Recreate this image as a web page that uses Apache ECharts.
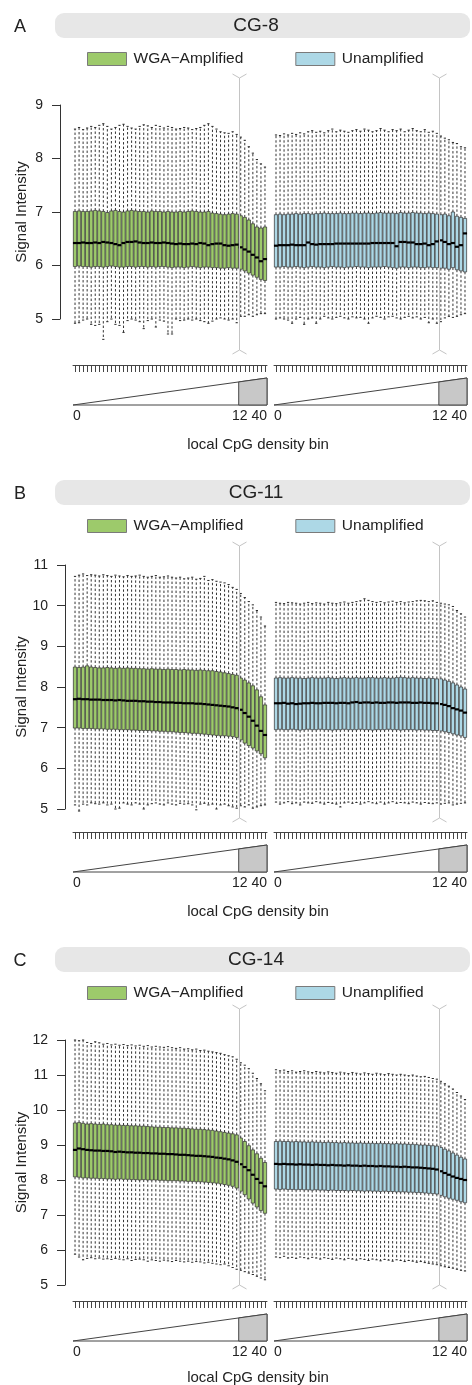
<!DOCTYPE html>
<html>
<head>
<meta charset="utf-8">
<script src="https://cdn.jsdelivr.net/npm/echarts/dist/echarts.min.js"></script>
<style>
  html, body { margin: 0; padding: 0; background: #ffffff; }
  #chart { width: 472px; height: 1385px; }
</style>
</head>
<body>
<div id="chart"></div>
<script>
// Local CpG density bins: 41 fine bins covering 0-12, then 7 coarse bins covering 12-40
const bins = ['1','2','3','4','5','6','7','8','9','10','11','12','13','14','15','16',
  '17','18','19','20','21','22','23','24','25','26','27','28','29','30','31','32',
  '33','34','35','36','37','38','39','40','41','42','43','44','45','46','47','48'];
const splitAfter = 40;            // last bin of the 0-12 range
const rampLabels = ['0', '12', '40'];
const groupNames = ['WGA\u2212Amplified', 'Unamplified'];
const panelTitles = ['CG-8', 'CG-11', 'CG-14'];
const panelLetters = ['A', 'B', 'C'];

// ---- CG-8, WGA-amplified ----
const cg8WgaHi  = [8.55,8.58,8.54,8.57,8.60,8.58,8.62,8.65,8.60,8.55,8.58,8.62,8.64,8.60,8.57,8.55,8.60,8.63,8.61,8.58,8.62,8.60,8.57,8.60,8.58,8.55,8.56,8.58,8.57,8.54,8.56,8.58,8.62,8.65,8.60,8.55,8.50,8.48,8.47,8.50,8.45,8.40,8.34,8.22,8.10,7.98,7.90,7.84];
const cg8WgaQ3  = [7.01,7.02,7.01,7.01,7.02,7.03,7.02,7.01,6.99,7.02,7.03,7.01,7.00,7.02,7.03,7.02,7.01,7.01,7.00,7.02,7.01,7.01,7.00,7.01,7.00,7.00,7.01,7.00,7.01,7.02,7.01,7.00,7.00,7.01,6.98,6.97,6.96,6.95,6.96,6.97,6.96,6.93,6.90,6.85,6.78,6.72,6.70,6.72];
const cg8WgaMed = [6.42,6.42,6.43,6.42,6.42,6.43,6.42,6.44,6.43,6.42,6.40,6.38,6.42,6.44,6.44,6.45,6.43,6.42,6.42,6.43,6.42,6.42,6.43,6.42,6.41,6.40,6.41,6.40,6.40,6.41,6.40,6.42,6.41,6.38,6.40,6.41,6.41,6.38,6.37,6.38,6.39,6.34,6.30,6.26,6.20,6.15,6.08,6.12];
const cg8WgaQ1  = [5.98,5.99,5.98,5.98,5.97,5.98,5.98,5.97,5.98,5.99,5.98,5.97,5.97,5.98,5.98,5.97,5.98,5.98,5.97,5.98,5.97,5.98,5.98,5.97,5.96,5.97,5.97,5.96,5.97,5.98,5.97,5.96,5.97,5.97,5.96,5.96,5.95,5.95,5.96,5.95,5.95,5.93,5.90,5.86,5.82,5.78,5.74,5.72];
const cg8WgaLo  = [4.92,4.93,4.98,5.00,4.90,4.88,4.90,4.62,4.95,5.00,4.90,4.88,4.75,4.97,5.00,4.98,4.95,4.82,4.97,5.00,4.85,4.98,4.96,4.72,4.72,5.00,4.97,4.98,5.00,4.98,5.00,4.97,4.95,4.92,4.96,5.00,5.02,5.00,4.98,5.00,4.93,5.05,5.05,5.08,5.05,5.08,5.10,5.10];

// ---- CG-8, unamplified ----
const cg8UnaHi  = [8.44,8.43,8.46,8.44,8.47,8.45,8.48,8.46,8.50,8.52,8.49,8.51,8.48,8.52,8.55,8.50,8.53,8.51,8.49,8.52,8.54,8.51,8.55,8.53,8.50,8.52,8.56,8.53,8.50,8.54,8.52,8.55,8.50,8.53,8.56,8.52,8.50,8.54,8.49,8.51,8.47,8.42,8.38,8.35,8.30,8.28,8.22,8.20];
const cg8UnaQ3  = [6.95,6.96,6.95,6.96,6.96,6.97,6.96,6.97,6.97,6.96,6.97,6.97,6.98,6.97,6.97,6.97,6.98,6.97,6.97,6.98,6.98,6.97,6.98,6.98,6.97,6.98,6.99,6.98,6.98,6.98,6.97,6.99,6.98,6.98,6.99,6.98,6.98,6.97,6.98,6.97,6.96,6.95,6.96,6.93,7.00,6.92,6.90,6.88];
const cg8UnaMed = [6.37,6.38,6.38,6.38,6.39,6.38,6.38,6.38,6.43,6.40,6.39,6.40,6.40,6.40,6.40,6.41,6.41,6.41,6.41,6.41,6.41,6.41,6.41,6.41,6.42,6.42,6.42,6.42,6.42,6.42,6.36,6.44,6.44,6.43,6.43,6.40,6.40,6.41,6.38,6.40,6.45,6.47,6.44,6.40,6.42,6.35,6.38,6.60];
const cg8UnaQ1  = [5.97,5.97,5.98,5.97,5.97,5.98,5.97,5.96,5.97,5.98,5.97,5.97,5.96,5.97,5.98,5.97,5.97,5.96,5.97,5.97,5.98,5.97,5.97,5.96,5.97,5.97,5.97,5.98,5.97,5.96,5.95,5.97,5.97,5.96,5.97,5.97,5.96,5.96,5.97,5.96,5.96,5.95,5.95,5.93,5.96,5.92,5.90,5.88];
const cg8UnaLo  = [5.00,5.02,5.00,4.98,4.92,5.00,5.03,4.90,5.00,5.02,4.92,5.00,5.05,5.02,5.00,5.03,5.05,5.02,5.00,5.04,5.02,5.03,5.00,4.92,5.02,5.05,5.03,5.00,5.04,5.05,5.02,5.00,5.03,5.05,5.02,5.04,5.00,5.03,4.93,5.00,4.92,4.95,5.02,5.05,5.03,5.05,5.08,5.10];

// ---- CG-11, WGA-amplified ----
const cg11WgaHi  = [10.72,10.75,10.78,10.74,10.76,10.75,10.73,10.76,10.74,10.72,10.75,10.73,10.71,10.74,10.72,10.73,10.75,10.72,10.70,10.72,10.74,10.70,10.71,10.73,10.70,10.68,10.70,10.66,10.68,10.70,10.65,10.67,10.72,10.62,10.64,10.60,10.58,10.56,10.52,10.45,10.40,10.30,10.20,10.10,10.02,9.88,9.72,9.50];
const cg11WgaQ3  = [8.49,8.48,8.49,8.52,8.49,8.48,8.47,8.47,8.48,8.47,8.46,8.47,8.46,8.47,8.46,8.46,8.45,8.45,8.44,8.45,8.44,8.44,8.43,8.44,8.43,8.43,8.42,8.43,8.42,8.42,8.41,8.42,8.41,8.40,8.40,8.38,8.37,8.35,8.33,8.31,8.29,8.22,8.17,8.10,8.03,7.93,7.76,7.56];
const cg11WgaMed = [7.70,7.71,7.70,7.70,7.69,7.69,7.69,7.68,7.68,7.68,7.67,7.68,7.67,7.66,7.66,7.66,7.65,7.65,7.64,7.64,7.63,7.63,7.62,7.62,7.62,7.61,7.61,7.60,7.60,7.60,7.59,7.59,7.58,7.57,7.56,7.55,7.54,7.53,7.52,7.50,7.48,7.44,7.36,7.27,7.17,7.05,6.92,6.82];
const cg11WgaQ1  = [6.99,6.99,6.98,6.98,6.98,6.97,6.97,6.97,6.96,6.96,6.96,6.95,6.95,6.95,6.94,6.94,6.93,6.93,6.93,6.92,6.92,6.91,6.91,6.90,6.90,6.89,6.88,6.88,6.87,6.86,6.86,6.85,6.84,6.83,6.82,6.81,6.80,6.80,6.79,6.78,6.76,6.70,6.62,6.56,6.50,6.43,6.36,6.26];
const cg11WgaLo  = [5.10,4.95,5.12,5.10,5.15,5.13,5.12,5.15,5.10,5.12,5.00,5.02,5.15,5.12,5.10,5.15,5.12,5.00,5.10,5.13,5.15,5.12,5.10,5.15,5.12,5.10,5.14,5.12,5.13,5.10,4.98,5.12,5.14,5.10,5.12,5.00,5.10,5.12,5.08,5.05,5.02,5.08,5.05,5.10,5.02,5.05,5.08,5.10];

// ---- CG-11, unamplified ----
const cg11UnaHi  = [10.08,10.06,10.05,10.08,10.07,10.06,10.04,10.06,10.08,10.05,10.07,10.06,10.04,10.08,10.06,10.05,10.07,10.09,10.06,10.08,10.10,10.12,10.17,10.13,10.10,10.08,10.10,10.07,10.09,10.11,10.08,10.10,10.07,10.09,10.10,10.12,10.13,10.12,10.10,10.12,10.08,10.06,10.04,10.02,9.98,9.88,9.80,9.72];
const cg11UnaQ3  = [8.22,8.23,8.22,8.22,8.23,8.22,8.22,8.21,8.22,8.23,8.22,8.22,8.22,8.23,8.22,8.21,8.22,8.23,8.22,8.22,8.23,8.22,8.22,8.23,8.23,8.22,8.22,8.23,8.22,8.22,8.23,8.24,8.23,8.22,8.23,8.22,8.22,8.21,8.22,8.21,8.20,8.20,8.17,8.14,8.10,8.05,8.00,7.95];
const cg11UnaMed = [7.60,7.60,7.61,7.59,7.60,7.58,7.59,7.60,7.60,7.61,7.60,7.60,7.61,7.61,7.61,7.60,7.61,7.61,7.60,7.62,7.63,7.61,7.62,7.62,7.61,7.62,7.61,7.61,7.62,7.62,7.61,7.62,7.62,7.62,7.61,7.61,7.62,7.61,7.61,7.60,7.60,7.58,7.56,7.53,7.48,7.45,7.42,7.37];
const cg11UnaQ1  = [6.95,6.96,6.95,6.95,6.96,6.95,6.94,6.95,6.96,6.95,6.95,6.96,6.95,6.95,6.94,6.95,6.95,6.96,6.95,6.95,6.95,6.96,6.95,6.95,6.94,6.95,6.95,6.95,6.96,6.95,6.95,6.94,6.95,6.95,6.95,6.94,6.95,6.94,6.94,6.93,6.93,6.92,6.90,6.88,6.85,6.82,6.80,6.76];
const cg11UnaLo  = [5.17,5.12,5.15,5.18,5.13,5.15,5.10,5.17,5.15,5.14,5.18,5.15,5.12,5.16,5.14,5.12,5.05,5.15,5.17,5.14,5.16,5.12,5.15,5.18,5.15,5.13,5.17,5.12,5.15,5.18,5.14,5.16,5.15,5.13,5.17,5.15,5.12,5.16,5.14,5.13,5.15,5.12,5.14,5.15,5.10,5.12,5.14,5.15];

// ---- CG-14, WGA-amplified ----
const cg14WgaHi  = [12.00,11.98,12.00,11.93,11.90,11.95,11.92,11.88,11.90,11.86,11.88,11.85,11.87,11.84,11.86,11.83,11.85,11.82,11.84,11.80,11.82,11.80,11.79,11.81,11.78,11.76,11.78,11.74,11.75,11.72,11.74,11.70,11.71,11.68,11.66,11.64,11.62,11.58,11.55,11.52,11.45,11.35,11.28,11.18,11.05,10.90,10.75,10.55];
const cg14WgaQ3  = [9.63,9.64,9.62,9.60,9.61,9.60,9.59,9.60,9.58,9.58,9.57,9.57,9.56,9.56,9.55,9.55,9.54,9.54,9.53,9.52,9.51,9.51,9.50,9.50,9.49,9.49,9.48,9.48,9.47,9.46,9.45,9.45,9.44,9.43,9.42,9.40,9.38,9.36,9.34,9.32,9.29,9.20,9.10,8.98,8.86,8.75,8.62,8.50];
const cg14WgaMed = [8.86,8.90,8.88,8.86,8.85,8.84,8.84,8.83,8.83,8.82,8.80,8.81,8.80,8.79,8.79,8.78,8.78,8.77,8.77,8.76,8.76,8.75,8.75,8.74,8.74,8.73,8.72,8.72,8.71,8.70,8.69,8.69,8.68,8.67,8.66,8.64,8.63,8.61,8.59,8.56,8.52,8.45,8.37,8.28,8.15,8.03,7.92,7.82];
const cg14WgaQ1  = [8.09,8.08,8.06,8.06,8.05,8.05,8.04,8.04,8.03,8.03,8.02,8.03,8.02,8.02,8.01,8.01,8.00,8.01,8.00,8.00,8.00,7.99,7.99,7.98,7.98,7.98,7.97,7.97,7.96,7.96,7.95,7.95,7.94,7.93,7.92,7.91,7.89,7.87,7.85,7.82,7.77,7.68,7.58,7.46,7.34,7.23,7.13,7.05];
const cg14WgaLo  = [5.88,5.80,5.72,5.76,5.78,5.75,5.77,5.74,5.75,5.73,5.76,5.74,5.72,5.75,5.70,5.73,5.74,5.72,5.68,5.72,5.70,5.68,5.71,5.69,5.67,5.70,5.68,5.66,5.68,5.65,5.67,5.66,5.63,5.65,5.62,5.60,5.58,5.60,5.55,5.50,5.45,5.42,5.38,5.34,5.30,5.25,5.20,5.15];

// ---- CG-14, unamplified ----
const cg14UnaHi  = [11.15,11.12,11.14,11.10,11.12,11.08,11.10,11.12,11.09,11.07,11.10,11.08,11.06,11.09,11.07,11.05,11.08,11.06,11.04,11.07,11.05,11.03,11.06,11.04,11.02,11.05,11.03,11.01,11.04,11.02,11.00,11.02,11.00,10.98,11.00,10.97,10.95,10.96,10.93,10.90,10.88,10.82,10.75,10.68,10.60,10.50,10.40,10.30];
const cg14UnaQ3  = [9.10,9.11,9.10,9.10,9.09,9.10,9.09,9.09,9.08,9.09,9.08,9.08,9.07,9.08,9.07,9.07,9.06,9.07,9.06,9.06,9.05,9.06,9.05,9.05,9.05,9.04,9.05,9.04,9.04,9.03,9.04,9.03,9.03,9.02,9.02,9.01,9.00,9.00,8.99,8.98,8.97,8.93,8.88,8.83,8.77,8.71,8.65,8.60];
const cg14UnaMed = [8.46,8.45,8.46,8.45,8.45,8.44,8.45,8.44,8.44,8.43,8.44,8.43,8.43,8.42,8.43,8.42,8.42,8.41,8.42,8.41,8.41,8.40,8.41,8.40,8.40,8.39,8.40,8.39,8.39,8.38,8.38,8.37,8.38,8.37,8.36,8.36,8.35,8.34,8.33,8.32,8.30,8.25,8.20,8.15,8.10,8.06,8.03,8.00];
const cg14UnaQ1  = [7.74,7.73,7.74,7.73,7.73,7.72,7.73,7.72,7.72,7.71,7.72,7.71,7.71,7.70,7.71,7.70,7.70,7.70,7.69,7.70,7.69,7.69,7.68,7.69,7.68,7.68,7.67,7.68,7.67,7.67,7.66,7.66,7.66,7.65,7.65,7.64,7.64,7.63,7.62,7.61,7.60,7.56,7.52,7.48,7.45,7.42,7.38,7.35];
const cg14UnaLo  = [5.80,5.78,5.82,5.77,5.79,5.76,5.80,5.78,5.75,5.79,5.77,5.74,5.78,5.76,5.73,5.77,5.75,5.72,5.76,5.74,5.71,5.75,5.73,5.70,5.74,5.72,5.69,5.73,5.71,5.68,5.72,5.70,5.67,5.70,5.68,5.65,5.67,5.64,5.62,5.60,5.58,5.55,5.52,5.50,5.48,5.45,5.42,5.40];

// Axis ranges for the three panels
const yMins = [5, 5, 5];
const yMaxs = [9, 11, 12];

// Page layout (pixels) of each panel
const layouts = [
  { barTop: 13,  legendTop: 46,  lineTop: 74,   yTop: 105,  yBot: 319,  lineBot: 354,  tickRow: 365,  axisX: 60, nameDy: 80 },
  { barTop: 480, legendTop: 513, lineTop: 542,  yTop: 565,  yBot: 809,  lineBot: 822,  tickRow: 832,  axisX: 65, nameDy: 80 },
  { barTop: 947, legendTop: 980, lineTop: 1005, yTop: 1040, yBot: 1285, lineBot: 1289, tickRow: 1301, axisX: 65, nameDy: 77 }
];
const groupBoxes = [{ left: 73, width: 194 }, { left: 274, width: 193 }];

const GREEN = '#9dca6b';
const BLUE = '#add8e6';
const INK = '#222222';
const FONT = '"Liberation Sans", Arial, Helvetica, sans-serif';

const panelData = [
  [[cg8WgaLo, cg8WgaQ1, cg8WgaMed, cg8WgaQ3, cg8WgaHi], [cg8UnaLo, cg8UnaQ1, cg8UnaMed, cg8UnaQ3, cg8UnaHi]],
  [[cg11WgaLo, cg11WgaQ1, cg11WgaMed, cg11WgaQ3, cg11WgaHi], [cg11UnaLo, cg11UnaQ1, cg11UnaMed, cg11UnaQ3, cg11UnaHi]],
  [[cg14WgaLo, cg14WgaQ1, cg14WgaMed, cg14WgaQ3, cg14WgaHi], [cg14UnaLo, cg14UnaQ1, cg14UnaMed, cg14UnaQ3, cg14UnaHi]]
];

function boxRows(stats) {
  return bins.map((b, i) => [i, stats[0][i], stats[1][i], stats[2][i], stats[3][i], stats[4][i]]);
}

// One box with dotted whiskers and staples, R boxplot style
function renderBox(params, api) {
  const i = api.value(0);
  const pLo = api.coord([i, api.value(1)]);
  const pQ1 = api.coord([i, api.value(2)]);
  const pMd = api.coord([i, api.value(3)]);
  const pQ3 = api.coord([i, api.value(4)]);
  const pHi = api.coord([i, api.value(5)]);
  const band = api.size([1, 0])[0];
  const cx = pMd[0];
  const bw = band * 0.82;
  const sw = band * 0.55;
  const whisk = { stroke: '#333333', lineWidth: 1, lineDash: [2.4, 2.1] };
  const staple = { stroke: '#2a2a2a', lineWidth: 1 };
  return {
    type: 'group',
    children: [
      { type: 'line', shape: { x1: cx, y1: pQ3[1], x2: cx, y2: pHi[1] }, style: whisk },
      { type: 'line', shape: { x1: cx, y1: pQ1[1], x2: cx, y2: pLo[1] }, style: whisk },
      { type: 'line', shape: { x1: cx - sw / 2, y1: pHi[1], x2: cx + sw / 2, y2: pHi[1] }, style: staple },
      { type: 'line', shape: { x1: cx - sw / 2, y1: pLo[1], x2: cx + sw / 2, y2: pLo[1] }, style: staple },
      { type: 'rect', shape: { x: cx - bw / 2, y: pQ3[1], width: bw, height: pQ1[1] - pQ3[1] },
        style: { fill: api.visual('color'), stroke: '#2e2e2e', lineWidth: 0.7 } },
      { type: 'line', shape: { x1: cx - bw / 2 - 0.4, y1: pMd[1], x2: cx + bw / 2 + 0.4, y2: pMd[1] },
        style: { stroke: '#000000', lineWidth: 2.2 } }
    ]
  };
}

const grid = [], xAxis = [], yAxis = [], series = [], legend = [];
layouts.forEach((L, p) => {
  [0, 1].forEach(g => {
    const k = p * 2 + g;
    const G = groupBoxes[g];
    grid.push({ left: G.left, width: G.width, top: L.yTop, height: L.yBot - L.yTop, outerBoundsMode: 'none' });
    xAxis.push({
      type: 'category', gridIndex: k, data: bins, boundaryGap: true, position: 'bottom',
      offset: L.tickRow - L.yBot,
      axisLine: { show: true, lineStyle: { color: '#444', width: 1 } },
      axisTick: { show: true, alignWithLabel: true, interval: 0, length: 7, lineStyle: { color: '#444', width: 1 } },
      axisLabel: { show: false }, splitLine: { show: false }
    });
    yAxis.push({
      type: 'value', gridIndex: k, min: yMins[p], max: yMaxs[p], interval: 1,
      show: g === 0, position: 'left', offset: G.left - L.axisX,
      name: g === 0 ? 'Signal Intensity' : '', nameLocation: 'middle', nameRotate: 90,
      nameGap: L.axisX - 29, nameMoveOverlap: false,
      nameTextStyle: { fontSize: 15, color: INK, fontFamily: FONT },
      axisLine: { show: true, lineStyle: { color: '#333', width: 1 } },
      axisTick: { show: true, length: 8, lineStyle: { color: '#333', width: 1 } },
      axisLabel: { show: true, fontSize: 14, color: INK, margin: 17, fontFamily: FONT },
      splitLine: { show: false }
    });
    series.push({
      type: 'custom', name: groupNames[g], xAxisIndex: k, yAxisIndex: k, clip: false,
      itemStyle: { color: g ? BLUE : GREEN },
      encode: { x: 0, y: [1, 2, 3, 4, 5] },
      data: boxRows(panelData[p][g]),
      renderItem: renderBox
    });
  });
  legend.push({
    top: L.legendTop, left: 82, orient: 'horizontal', icon: 'rect',
    itemWidth: 39, itemHeight: 13, itemGap: 52, selectedMode: false,
    itemStyle: { borderColor: '#7a7a7a', borderWidth: 1 },
    textStyle: { fontSize: 15.5, color: INK, fontFamily: FONT, padding: [0, 0, 0, 2] },
    data: groupNames
  });
});

const chart = echarts.init(document.getElementById('chart'), null, { renderer: 'canvas' });
chart.setOption({
  animation: false,
  backgroundColor: '#ffffff',
  textStyle: { fontFamily: FONT },
  grid: grid, xAxis: xAxis, yAxis: yAxis, legend: legend, series: series
});

// Panel headers, CpG density ramps and the 12-boundary marker
const graphics = [];
layouts.forEach((L, p) => {
  graphics.push({
    type: 'rect', z: 0, silent: true,
    shape: { x: 55, y: L.barTop, width: 415, height: 25, r: 9 },
    style: { fill: '#e7e7e7' }
  });
  graphics.push({
    type: 'text', z: 5, silent: true,
    style: { x: 256, y: L.barTop + 13, text: panelTitles[p], fontSize: 19, fill: INK,
             fontFamily: FONT, align: 'center', verticalAlign: 'middle' }
  });
  graphics.push({
    type: 'text', z: 5, silent: true,
    style: { x: 20, y: L.barTop + 14, text: panelLetters[p], fontSize: 18, fill: INK,
             fontFamily: FONT, align: 'center', verticalAlign: 'middle' }
  });
  const base = L.tickRow + 40;
  const rampH = 27;
  [0, 1].forEach(g => {
    const k = p * 2 + g;
    const half = chart.convertToPixel({ xAxisIndex: k }, bins[1]) - chart.convertToPixel({ xAxisIndex: k }, bins[0]);
    const x0 = chart.convertToPixel({ xAxisIndex: k }, bins[0]) - half / 2;
    const x1 = chart.convertToPixel({ xAxisIndex: k }, bins[bins.length - 1]) + half / 2;
    const xs = chart.convertToPixel({ xAxisIndex: k }, bins[splitAfter]) + half / 2;
    const ySplit = base - rampH * (xs - x0) / (x1 - x0);
    // ramp outline
    graphics.push({
      type: 'polygon', z: 3, silent: true,
      shape: { points: [[x0, base], [x1, base - rampH], [x1, base]] },
      style: { fill: '#ffffff', stroke: '#444', lineWidth: 1 }
    });
    graphics.push({
      type: 'polygon', z: 4, silent: true,
      shape: { points: [[xs, base], [xs, ySplit], [x1, base - rampH], [x1, base]] },
      style: { fill: '#c8c8c8', stroke: '#444', lineWidth: 1 }
    });
    const labY = L.tickRow + 51;
    graphics.push({ type: 'text', z: 5, silent: true,
      style: { x: x0, y: labY, text: rampLabels[0], fontSize: 14, fill: INK, fontFamily: FONT, align: 'left', verticalAlign: 'middle' } });
    graphics.push({ type: 'text', z: 5, silent: true,
      style: { x: xs + 1, y: labY, text: rampLabels[1], fontSize: 14, fill: INK, fontFamily: FONT, align: 'center', verticalAlign: 'middle' } });
    graphics.push({ type: 'text', z: 5, silent: true,
      style: { x: x1, y: labY, text: rampLabels[2], fontSize: 14, fill: INK, fontFamily: FONT, align: 'right', verticalAlign: 'middle' } });
    // vertical marker at the 12 boundary, with forked ends
    const xm = Math.round(xs) + 0.5;
    graphics.push({
      type: 'polyline', z: 10, silent: true,
      shape: { points: [[xm - 7, L.lineTop], [xm, L.lineTop + 4], [xm + 7, L.lineTop]] },
      style: { stroke: '#c4c4c4', lineWidth: 1, fill: null }
    });
    graphics.push({
      type: 'polyline', z: 10, silent: true,
      shape: { points: [[xm - 7, L.lineBot], [xm, L.lineBot - 4], [xm + 7, L.lineBot]] },
      style: { stroke: '#c4c4c4', lineWidth: 1, fill: null }
    });
    graphics.push({
      type: 'line', z: 10, silent: true,
      shape: { x1: xm, y1: L.lineTop + 4, x2: xm, y2: L.lineBot - 4 },
      style: { stroke: '#c4c4c4', lineWidth: 1 }
    });
  });
  graphics.push({
    type: 'text', z: 5, silent: true,
    style: { x: 258, y: L.tickRow + L.nameDy, text: 'local CpG density bin', fontSize: 15, fill: INK,
             fontFamily: FONT, align: 'center', verticalAlign: 'middle' }
  });
});
chart.setOption({ graphic: graphics });
</script>
</body>
</html>
